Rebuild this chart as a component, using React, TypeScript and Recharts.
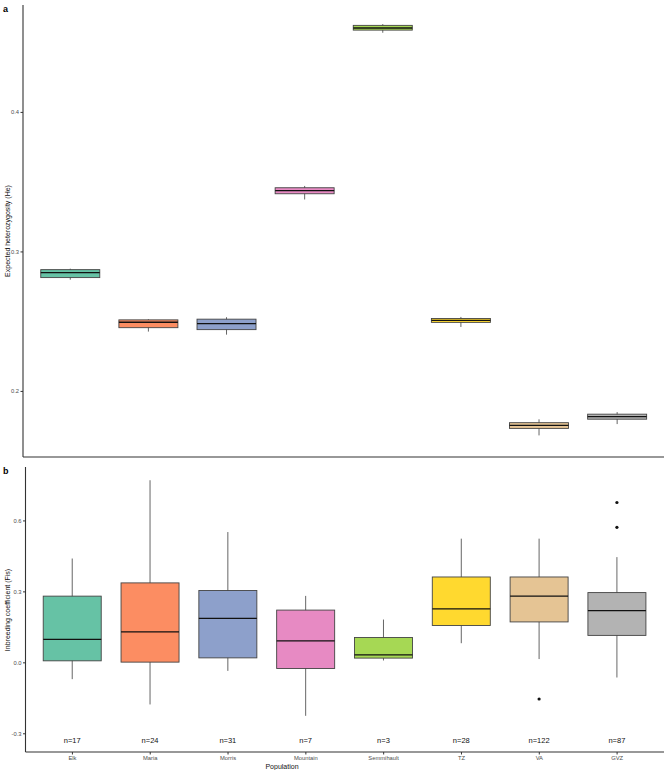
import { ComposedChart, Bar, XAxis, YAxis } from 'recharts'

const populations = ['Elk', 'Maria', 'Morris', 'Mountain', 'Semmihault', 'TZ', 'VA', 'GVZ']
const colours = ['#66c2a5', '#fc8d62', '#8da0cb', '#e78ac3', '#a6d854', '#ffd92f', '#e5c494', '#b3b3b3']

// Expected heterozygosity (He), five-number summary per population
const heMin = [0.2801, 0.2429, 0.2407, 0.3376, 0.4571, 0.2462, 0.1685, 0.1766]
const heQ1 = [0.2816, 0.2457, 0.2443, 0.3417, 0.459, 0.2495, 0.1735, 0.1801]
const heMedian = [0.2852, 0.2496, 0.2486, 0.3439, 0.4605, 0.2509, 0.1756, 0.182]
const heQ3 = [0.2873, 0.2513, 0.2518, 0.346, 0.4624, 0.2523, 0.1776, 0.1837]
const heMax = [0.288, 0.2518, 0.2532, 0.3473, 0.4633, 0.2534, 0.18, 0.1852]
const heTicks = [0.2, 0.3, 0.4]

// Inbreeding coefficient (Fis)
const fisMin = [-0.069, -0.176, -0.034, -0.224, 0.01, 0.083, 0.016, -0.062]
const fisQ1 = [0.0085, 0.003, 0.021, -0.024, 0.02, 0.158, 0.173, 0.116]
const fisMedian = [0.099, 0.131, 0.188, 0.093, 0.034, 0.228, 0.282, 0.221]
const fisQ3 = [0.282, 0.338, 0.306, 0.223, 0.107, 0.363, 0.363, 0.297]
const fisMax = [0.441, 0.772, 0.553, 0.283, 0.183, 0.525, 0.525, 0.447]
const fisOutliers = [[], [], [], [], [], [], [-0.153], [0.678, 0.573]]
const sampleSizes = [17, 24, 31, 7, 3, 28, 122, 87]
const fisTicks = [-0.3, 0, 0.3, 0.6]
const countLabelAt = -0.327

const heData = populations.map((name, i) => ({
  name,
  fill: colours[i],
  min: heMin[i],
  q1: heQ1[i],
  median: heMedian[i],
  q3: heQ3[i],
  max: heMax[i],
  outliers: [] as number[],
}))

const fisData = populations.map((name, i) => ({
  name,
  fill: colours[i],
  min: fisMin[i],
  q1: fisQ1[i],
  median: fisMedian[i],
  q3: fisQ3[i],
  max: fisMax[i],
  outliers: fisOutliers[i],
  n: sampleSizes[i],
}))

const FONT = '"Liberation Sans", Arial, sans-serif'
const AXIS = '#333333'

// range bar spans min..max; the rest of the box is placed along the same scale
const BoxShape = (props: any) => {
  const { x, y, width, height, payload } = props
  const top = Math.min(y, y + height)
  const span = Math.abs(height)
  const toY = (v: number) => top + ((payload.max - v) * span) / (payload.max - payload.min)
  const cx = x + width / 2
  const yQ3 = toY(payload.q3)
  const yQ1 = toY(payload.q1)
  return (
    <g>
      <line x1={cx} x2={cx} y1={top} y2={top + span} stroke="#555" strokeWidth={0.9} />
      <rect x={x} y={yQ3} width={width} height={yQ1 - yQ3} fill={payload.fill} stroke="#444" strokeWidth={0.9} />
      <line x1={x} x2={x + width} y1={toY(payload.median)} y2={toY(payload.median)} stroke="#111" strokeWidth={1.3} />
      {payload.outliers.map((v: number, k: number) => (
        <circle key={k} cx={cx} cy={toY(v)} r={1.6} fill="#111" />
      ))}
      {payload.n !== undefined && (
        <text x={cx} y={toY(countLabelAt)} dy={2.5} textAnchor="middle" fontSize={7.5} fontFamily={FONT} fill="#111">
          {`n=${payload.n}`}
        </text>
      )}
    </g>
  )
}

const YTitle = ({ text, cy }: { text: string; cy: number }) => (
  <text
    x={0}
    y={0}
    transform={`translate(9.5, ${cy}) rotate(-90)`}
    textAnchor="middle"
    fontSize={7}
    fontFamily={FONT}
    fill="#111"
  >
    {text}
  </text>
)

const tickStyle = { fontSize: 5.8, fontFamily: FONT, fill: '#4d4d4d' }

const App = () => {
  return (
    <div style={{ position: 'absolute', left: 0, top: 0, width: 667, height: 770, background: '#fff' }}>
      <div style={{ position: 'absolute', left: 0, top: 0 }}>
        <ComposedChart
          width={667}
          height={462}
          data={heData}
          margin={{ top: 5, right: 3, bottom: 4, left: 0 }}
          barCategoryGap="12.5%"
        >
          <XAxis
            dataKey="name"
            type="category"
            height={1}
            tick={false}
            tickLine={false}
            axisLine={{ stroke: AXIS, strokeWidth: 1.1 }}
            padding={{ left: 8, right: 8 }}
          />
          <YAxis
            type="number"
            width={23}
            domain={[0.153, 0.477]}
            ticks={heTicks}
            allowDataOverflow
            tickFormatter={(v: number) => v.toFixed(1)}
            tick={tickStyle}
            tickSize={2.5}
            tickMargin={1.5}
            tickLine={{ stroke: AXIS }}
            axisLine={{ stroke: AXIS, strokeWidth: 1.1 }}
            label={<YTitle text="Expected heterozygosity (He)" cy={231} />}
          />
          <Bar dataKey={(d: any) => [d.min, d.max]} isAnimationActive={false} shape={BoxShape} />
        </ComposedChart>
      </div>
      <div style={{ position: 'absolute', left: 0, top: 462 }}>
        <ComposedChart
          width={667}
          height={308}
          data={fisData}
          margin={{ top: 5, right: 3, bottom: 0, left: 0 }}
          barCategoryGap="12.5%"
        >
          <XAxis
            dataKey="name"
            type="category"
            height={18}
            interval={0}
            tick={tickStyle}
            tickSize={2.5}
            tickMargin={1}
            tickLine={{ stroke: AXIS }}
            axisLine={{ stroke: AXIS, strokeWidth: 1.1 }}
            padding={{ left: 8, right: 8 }}
          />
          <YAxis
            type="number"
            width={25.5}
            domain={[-0.377, 0.828]}
            ticks={fisTicks}
            allowDataOverflow
            tickFormatter={(v: number) => v.toFixed(1)}
            tick={tickStyle}
            tickSize={2.5}
            tickMargin={1.5}
            tickLine={{ stroke: AXIS }}
            axisLine={{ stroke: AXIS, strokeWidth: 1.1 }}
            label={<YTitle text="Inbreeding coefficient (Fis)" cy={148} />}
          />
          <Bar dataKey={(d: any) => [d.min, d.max]} isAnimationActive={false} shape={BoxShape} />
        </ComposedChart>
      </div>
      {/* panel tags and the shared x title */}
      <svg width={667} height={770} style={{ position: 'absolute', left: 0, top: 0, pointerEvents: 'none' }}>
        <text x={3} y={12} fontSize={9} fontWeight="bold" fontFamily={FONT} fill="#000">a</text>
        <text x={3} y={474} fontSize={9} fontWeight="bold" fontFamily={FONT} fill="#000">b</text>
        <text x={282} y={768.5} textAnchor="middle" fontSize={7} fontFamily={FONT} fill="#111">Population</text>
      </svg>
    </div>
  )
}

export default App
